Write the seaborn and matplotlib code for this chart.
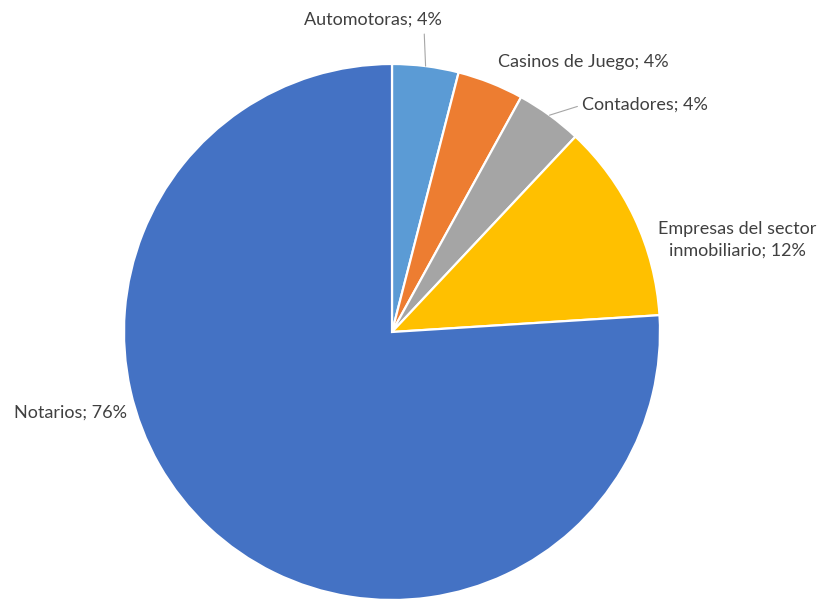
import numpy as np
import matplotlib
matplotlib.use("Agg")
import matplotlib.pyplot as plt
import seaborn as sns

# slices, clockwise from 12 o'clock
labels = ["Automotoras", "Casinos de Juego", "Contadores",
          "Empresas del sector\ninmobiliario", "Notarios"]
shares = [4, 4, 4, 12, 76]
colors = ["#5B9BD5", "#ED7D31", "#A5A5A5", "#FFC000", "#4472C4"]

sns.set_theme(style="white")
plt.rcParams["font.family"] = ["Lato", "DejaVu Sans"]

fig = plt.figure(figsize=(8.30, 6.01), dpi=100)
# square axes: pie centre ~(392, 332) px, radius ~268 px
ax = fig.add_axes([124 / 830, 1 / 601, 536 / 830, 536 / 601])
ax.pie(shares, colors=colors, startangle=90, counterclock=False, radius=1,
       wedgeprops=dict(edgecolor="white", linewidth=1.6))
ax.set_xlim(-1, 1)
ax.set_ylim(-1, 1)
ax.set_aspect("auto")
ax.axis("off")

# mid angle of each slice, for leader lines
cum = np.cumsum([0] + shares)
mid = np.deg2rad(90 - 360 * (cum[:-1] + cum[1:]) / 2 / sum(shares))

txt = dict(color="#404040", fontsize=13)
lab = ["%s; %d%%" % (l, s) for l, s in zip(labels, shares)]

def px(x, y):
    return ((x - 392) / 268, (332 - y) / 268)

# Automotoras, label above with vertical leader
ax.annotate(lab[0], xy=(np.cos(mid[0]), np.sin(mid[0])), xytext=px(373, 20),
            ha="center", va="center", annotation_clip=False,
            arrowprops=dict(arrowstyle="-", color="#A6A6A6", lw=0.8,
                            relpos=(0.87, 0.0), shrinkA=2, shrinkB=0), **txt)
ax.text(*px(583, 62), lab[1], ha="center", va="center", **txt)
ax.annotate(lab[2], xy=(np.cos(mid[2]), np.sin(mid[2])), xytext=px(582, 105),
            ha="left", va="center", annotation_clip=False,
            arrowprops=dict(arrowstyle="-", color="#A6A6A6", lw=0.8,
                            relpos=(0.0, 0.5), shrinkA=1, shrinkB=0), **txt)
ax.text(*px(737, 240), lab[3], ha="center", va="center", linespacing=1.4, **txt)
ax.text(*px(71, 413), lab[4], ha="center", va="center", **txt)

fig.savefig("out.png", dpi=100)
